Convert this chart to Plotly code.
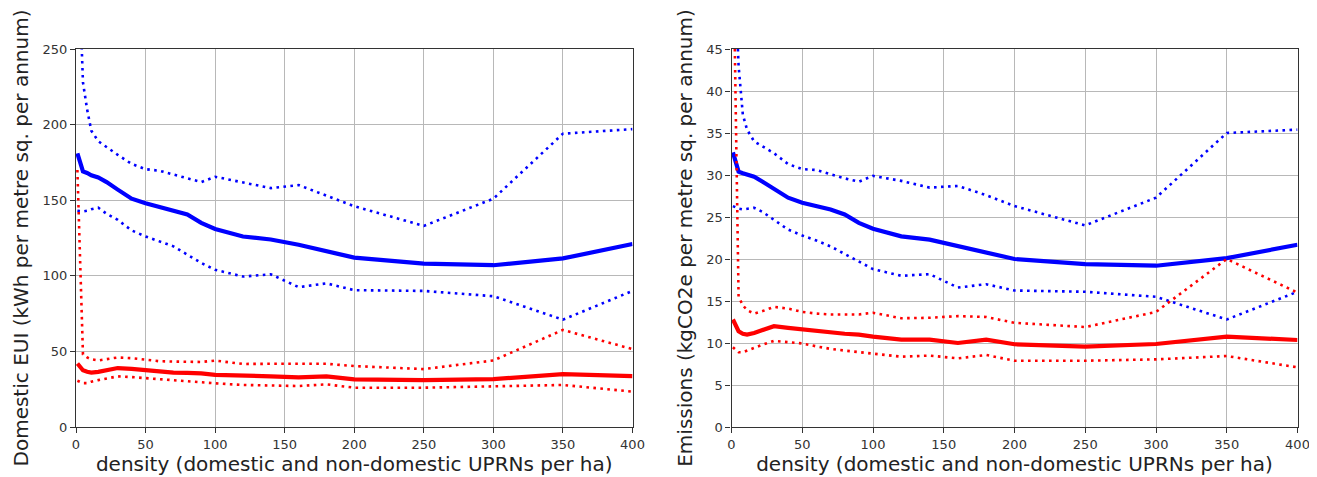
import plotly.graph_objects as go

density = [1, 5, 8, 11, 16, 22, 30, 40, 50, 60, 70, 80, 90, 100, 120, 140, 160, 180, 200, 250, 300, 350, 400]

# Left panel: Domestic EUI (kWh per metre sq. per annum)
eui_elec_mean = [181, 169, 168, 166.5, 165, 162, 157, 151, 148, 145.5, 143, 140.5, 135, 131, 126, 124, 120.5, 116, 112, 108, 107, 111.5, 121]
eui_elec_upper = [330, 228, 210, 196, 189, 185, 180, 174, 170.5, 169.5, 167, 164, 162, 165.5, 162, 158, 160, 153, 146, 133, 151, 194, 197]
eui_elec_lower = [143, 142.5, 143, 144, 145, 141, 137, 130, 126, 123, 119.5, 114, 108.5, 104, 99.5, 101, 92.5, 95, 90.5, 90, 86.5, 71, 90]
eui_gas_mean = [42, 37.5, 36.5, 36, 36.5, 37.5, 39, 38.5, 37.5, 36.5, 36, 35.8, 35.5, 34.5, 33.7, 33.5, 32.8, 33.5, 31.5, 31, 31.7, 35, 33.7]
eui_gas_upper = [170, 48, 46, 44.8, 44, 45, 46, 45.5, 44.3, 43.5, 43.3, 43, 43, 43.9, 41.7, 41.8, 42, 41.8, 40.3, 38.3, 44, 64.2, 51.5]
eui_gas_lower = [30.6, 29, 29, 30, 31, 32, 33.5, 33, 32.3, 31.5, 30.8, 30.2, 29.6, 28.9, 27.8, 27.5, 27.1, 28.2, 26, 26, 26.7, 27.8, 23.4]

# Right panel: Emissions (kgCO2e per metre sq. per annum)
em_elec_mean = [32.7, 30.4, 30.2, 30.0, 29.8, 29.2, 28.4, 27.3, 26.7, 26.3, 25.9, 25.3, 24.3, 23.6, 22.7, 22.3, 21.5, 20.7, 20.0, 19.4, 19.2, 20.1, 21.7]
em_elec_upper = [60, 43, 37.2, 35.4, 34, 33.4, 32.6, 31.3, 30.7, 30.6, 30.1, 29.6, 29.2, 29.9, 29.3, 28.5, 28.7, 27.6, 26.3, 24.0, 27.3, 35.0, 35.4]
em_elec_lower = [26.3, 26.0, 25.9, 26.0, 26.1, 25.6, 24.7, 23.5, 22.8, 22.2, 21.5, 20.6, 19.7, 18.8, 18.0, 18.2, 16.6, 17.0, 16.25, 16.1, 15.5, 12.8, 16.1]
em_gas_mean = [12.8, 11.4, 11.1, 11.0, 11.2, 11.6, 12.0, 11.8, 11.6, 11.4, 11.2, 11.1, 11.0, 10.75, 10.4, 10.4, 10.0, 10.4, 9.85, 9.56, 9.88, 10.75, 10.36]
em_gas_upper = [60, 15.5, 14.5, 13.9, 13.5, 13.8, 14.3, 14.1, 13.7, 13.5, 13.4, 13.4, 13.4, 13.6, 12.95, 13.0, 13.2, 13.1, 12.4, 11.9, 13.7, 20.0, 16.0]
em_gas_lower = [9.5, 8.9, 8.9, 9.1, 9.4, 9.8, 10.25, 10.1, 9.95, 9.6, 9.3, 9.1, 8.9, 8.7, 8.37, 8.5, 8.17, 8.57, 7.89, 7.89, 8.05, 8.45, 7.1]

x_ticks = [0, 50, 100, 150, 200, 250, 300, 350, 400]
eui_ticks = [0, 50, 100, 150, 200, 250]
em_ticks = [0, 5, 10, 15, 20, 25, 30, 35, 40, 45]

x_title = "density (domestic and non-domestic UPRNs per ha)"
eui_title = "Domestic EUI (kWh per metre sq. per annum)"
em_title = "Emissions (kgCO2e per metre sq. per annum)"

BLUE = "#0000ff"
RED = "#ff0000"
DOT = "2.6px,4.4px"

fig = go.Figure()

def add_panel(xa, ya, mean_b, up_b, lo_b, mean_r, up_r, lo_r):
    for ys, col, solid in [(up_b, BLUE, False), (lo_b, BLUE, False), (mean_b, BLUE, True),
                           (up_r, RED, False), (lo_r, RED, False), (mean_r, RED, True)]:
        fig.add_trace(go.Scatter(
            x=density, y=ys, mode="lines", xaxis=xa, yaxis=ya, showlegend=False,
            line=dict(color=col, width=4.2 if solid else 2.6, dash="solid" if solid else DOT),
            hoverinfo="skip"))

add_panel("x", "y", eui_elec_mean, eui_elec_upper, eui_elec_lower, eui_gas_mean, eui_gas_upper, eui_gas_lower)
add_panel("x2", "y2", em_elec_mean, em_elec_upper, em_elec_lower, em_gas_mean, em_gas_upper, em_gas_lower)

# page has an 8px body margin, so figure coordinates = page coordinates - 8
OFF = 8
W, H = 1317 - OFF, 477 - OFF
def fx(px):
    return (px - OFF) / W
def fy(py):
    return 1 - (py - OFF) / H

axis_common = dict(
    showline=True, linecolor="#333333", linewidth=1.3, mirror=True,
    ticks="outside", ticklen=5, tickwidth=1.2, tickcolor="#333333",
    showgrid=True, gridcolor="#b8b8b8", gridwidth=1.2, zeroline=False,
    automargin=False,
    tickfont=dict(family="DejaVu Sans", size=13, color="#333333"),
)
title_font = dict(family="DejaVu Sans", size=20, color="#222222")

fig.update_layout(
    width=W, height=H,
    margin=dict(l=0, r=0, t=0, b=0, autoexpand=False),
    paper_bgcolor="white", plot_bgcolor="white",
    xaxis=dict(domain=[fx(76), fx(632.5)], range=[0, 400], tickvals=x_ticks, anchor="y",
               title=dict(text=x_title, font=title_font, standoff=3), **axis_common),
    yaxis=dict(domain=[fy(427), fy(49)], range=[0, 250], tickvals=eui_ticks, anchor="x",
               title=dict(text=eui_title, font=title_font, standoff=8), **axis_common),
    xaxis2=dict(domain=[fx(731.5), fx(1297.5)], range=[0, 400], tickvals=x_ticks, anchor="y2",
                title=dict(text=x_title, font=title_font, standoff=3), **axis_common),
    yaxis2=dict(domain=[fy(427), fy(49)], range=[0, 45], tickvals=em_ticks, anchor="x2",
                title=dict(text=em_title, font=title_font, standoff=8), **axis_common),
)

fig.write_html("out.html")
